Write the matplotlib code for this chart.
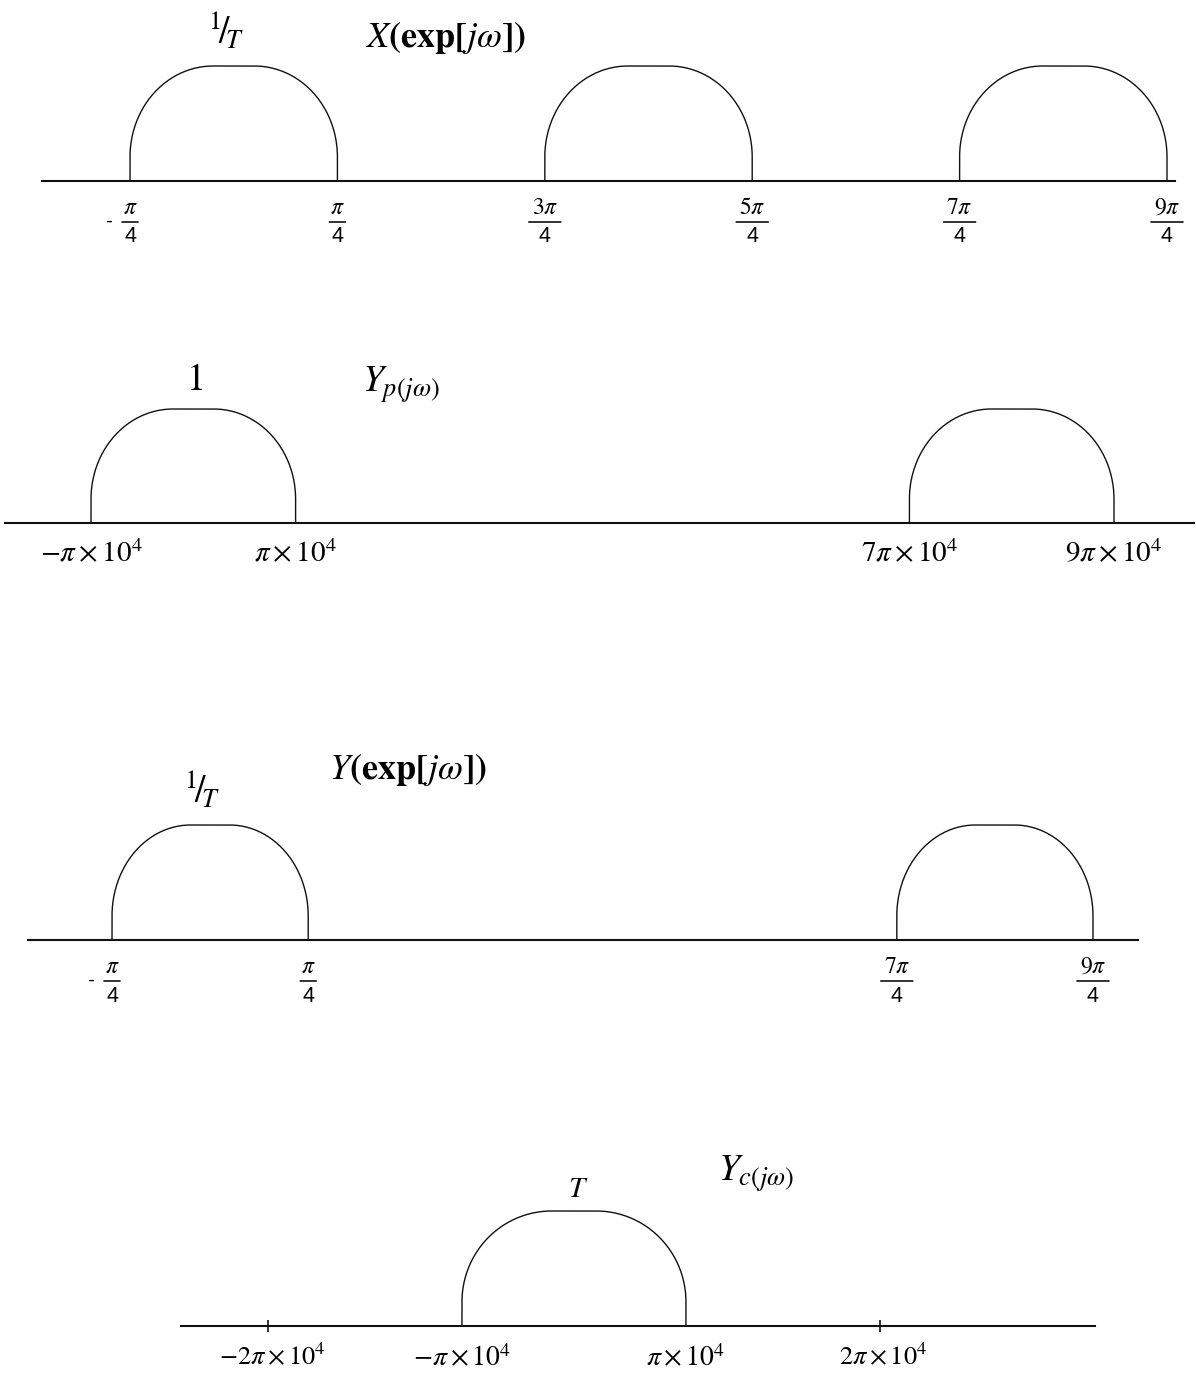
import numpy as np
import matplotlib
matplotlib.use("Agg")
import matplotlib.pyplot as plt
from matplotlib.transforms import offset_copy

plt.rcParams["mathtext.fontset"] = "stix"
plt.rcParams["font.family"] = ["STIXGeneral", "DejaVu Sans"]

W, H = 1196, 1373
T = 1.0  # sampling period (normalised)

# ---- X(exp[jw]) : frequency in units of pi --------------------------------
x_bands = [(-0.25, 0.25), (0.75, 1.25), (1.75, 2.25)]
x_amp = 1.0 / T
x_ticks = [-0.25, 0.25, 0.75, 1.25, 1.75, 2.25]
x_nums = [r"\pi", r"\pi", r"3\pi", r"5\pi", r"7\pi", r"9\pi"]

# ---- Y_p(jw) : frequency in units of pi x 10^4 ----------------------------
yp_bands = [(-1, 1), (7, 9)]
yp_amp = 1.0
yp_ticks = [-1, 1, 7, 9]
yp_labels = [r"$-\pi\times10^{4}$", r"$\pi\times10^{4}$",
             r"$7\pi\times10^{4}$", r"$9\pi\times10^{4}$"]

# ---- Y(exp[jw]) : frequency in units of pi --------------------------------
y_bands = [(-0.25, 0.25), (1.75, 2.25)]
y_amp = 1.0 / T
y_ticks = [-0.25, 0.25, 1.75, 2.25]
y_nums = [r"\pi", r"\pi", r"7\pi", r"9\pi"]

# ---- Y_c(jw) : frequency in units of pi x 10^4 ----------------------------
yc_bands = [(-1, 1)]
yc_amp = T
yc_edge_ticks = [-1, 1]
yc_edge_labels = [r"$-\pi\times10^{4}$", r"$\pi\times10^{4}$"]
yc_marks = [-2, 2]
yc_mark_labels = [r"$-2\pi\times10^{4}$", r"$2\pi\times10^{4}$"]

fig = plt.figure(figsize=(W / 100, H / 100), dpi=100)
fig.patch.set_facecolor("white")

INK = "#111111"


def hump(lo, hi, amp, n=80):
    """Rounded band-limited spectrum: straight flanks, round shoulders, flat top."""
    c, a = 0.5 * (lo + hi), 0.5 * (hi - lo)
    f, v = 0.2 * a, 0.21 * amp
    t1 = np.linspace(np.pi, np.pi / 2, n)
    t2 = np.linspace(np.pi / 2, 0, n)
    xs = np.concatenate([[lo], c - f + (a - f) * np.cos(t1),
                         c + f + (a - f) * np.cos(t2), [hi]])
    ys = np.concatenate([[0], v + (amp - v) * np.sin(t1),
                         v + (amp - v) * np.sin(t2), [0]])
    return xs, ys


def panel(left, right, base, top, xlim, amp, bands, scale=None):
    ax = fig.add_axes([left / W, 1 - base / H, (right - left) / W, (base - top) / H])
    if scale is not None:
        ax.set_xscale("function", functions=scale)
    ax.set_xlim(*xlim)
    ax.set_ylim(0, amp)
    ax.axis("off")
    ax.axhline(0, color=INK, lw=1.5, clip_on=False)
    for lo, hi in bands:
        xs, ys = hump(lo, hi, amp)
        ax.plot(xs, ys, color=INK, lw=1.0, clip_on=False,
                solid_joinstyle="round")
    return ax


def note(ax, s, x, y, dx, dy, size, **kw):
    ax.annotate(s, (x, y), xytext=(dx, dy), textcoords="offset pixels",
                ha="center", va="center", fontsize=size,
                annotation_clip=False, **kw)


def frac_tick(ax, x, num):
    note(ax, f"${num}$", x, 0, 0, -27, 17)
    note(ax, "4", x, 0, 0, -56, 15.5, family="Liberation Sans")
    w = 16 if num == r"\pi" else 32
    a = offset_copy(ax.transData, fig=fig, x=-w / 2, y=-41, units="dots")
    b = offset_copy(ax.transData, fig=fig, x=w / 2, y=-41, units="dots")
    ax.annotate("", xy=(x, 0), xycoords=a, xytext=(x, 0), textcoords=b,
                annotation_clip=False,
                arrowprops=dict(arrowstyle="-", lw=1.2, color=INK,
                                shrinkA=0, shrinkB=0))
    if x < 0:
        note(ax, "-", x, 0, -21, -40, 15, family="Liberation Sans")


def recip_label(ax, x, amp):
    # 1/T written as a slanted fraction
    note(ax, r"${}^{1}\!/\!{}_{T}$", x, amp, -8, 35, 27)


# ---------------- panel 1 ----------------
ax1 = panel(42, 1175, 181, 66, (-0.4622, 2.2693), x_amp, x_bands)
for xv, num in zip(x_ticks, x_nums):
    frac_tick(ax1, xv, num)
recip_label(ax1, np.mean(x_bands[0]), x_amp)
fig.text(445 / W, 1 - 38 / H, r"$X\mathbf{(exp[}j\omega\mathbf{])}$",
         ha="center", va="center", fontsize=26)

# ---------------- panel 2 ----------------
ax2 = panel(5, 1194, 523, 409, (-1.8407, 9.782), yp_amp, yp_bands)
for xv, lab in zip(yp_ticks, yp_labels):
    note(ax2, lab, xv, 0, 0, -31, 21)
note(ax2, "1", np.mean(yp_bands[0]), yp_amp, 3, 28, 27)
fig.text(401 / W, 1 - 385 / H, r"$Y_{p(j\omega)}$",
         ha="center", va="center", fontsize=27)

# ---------------- panel 3 ----------------
ax3 = panel(28, 1138, 940, 825, (-0.4641, 2.3647), y_amp, y_bands)
for xv, num in zip(y_ticks, y_nums):
    frac_tick(ax3, xv, num)
recip_label(ax3, np.mean(y_bands[0]), y_amp)
fig.text(408 / W, 1 - 770 / H, r"$Y\mathbf{(exp[}j\omega\mathbf{])}$",
         ha="center", va="center", fontsize=26)

# ---------------- panel 4 (stretched outside the passband) ----------------
K = 1.73


def fwd(v):
    v = np.asarray(v, dtype=float)
    m = np.abs(v)
    return np.where(m <= 1, v, np.sign(v) * (1 + K * (m - 1)))


def inv(u):
    u = np.asarray(u, dtype=float)
    m = np.abs(u)
    return np.where(m <= 1, u, np.sign(u) * (1 + (m - 1) / K))


ax4 = panel(181, 1095, 1326, 1211, (-2.450, 3.111), yc_amp, yc_bands,
            scale=(fwd, inv))
ax4.plot(yc_marks, [0] * len(yc_marks), ls="none", marker="|", ms=9,
         mew=1.2, color=INK, clip_on=False)
for xv, lab in zip(yc_edge_ticks, yc_edge_labels):
    note(ax4, lab, xv, 0, 0, -33, 20)
for xv, lab in zip(yc_marks, yc_mark_labels):
    note(ax4, lab, xv, 0, 4, -31, 19)
note(ax4, r"$T$", np.mean(yc_bands[0]), yc_amp, 4, 21, 21)
fig.text(756 / W, 1 - 1174 / H, r"$Y_{c(j\omega)}$",
         ha="center", va="center", fontsize=27)

fig.savefig("out.png", dpi=100, facecolor="white")
